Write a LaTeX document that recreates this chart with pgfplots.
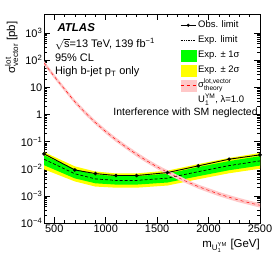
\documentclass[border=0pt]{standalone}
\usepackage{fontspec}
\setmainfont{Liberation Sans}
\usepackage{amsmath}
\usepackage{pgfplots}
\usepackage{pgfplotstable}
\pgfplotsset{compat=1.18}
\usepgfplotslibrary{fillbetween}
\definecolor{bandgreen}{RGB}{0,255,0}
\definecolor{bandyellow}{RGB}{255,255,0}
\definecolor{thpink}{RGB}{255,200,200}

\pgfplotstableread{
m    obs     exp     p1      p2      m1      m2
400  0.0352  0.0224  0.0314  0.0410  0.0135  0.0095
700  0.0090  0.0065  0.0095  0.0122  0.0044  0.0034
900  0.0066  0.0042  0.0061  0.0079  0.0029  0.0022
1100 0.0056  0.0037  0.0053  0.0067  0.0026  0.0020
1300 0.0056  0.0037  0.0053  0.0067  0.0026  0.0020
1600 0.0072  0.0045  0.0066  0.0085  0.0031  0.0024
1900 0.0127  0.0078  0.0115  0.0148  0.0053  0.0041
2200 0.0224  0.0130  0.0192  0.0250  0.0088  0.0068
2500 0.0323  0.0194  0.0290  0.0380  0.0130  0.0100
}\limits

\pgfplotstableread{
m    th       up       dn
400  78       94       65
500  25       30       21
600  8.5      10.2     7.1
700  2.95     3.5      2.45
800  1.17     1.40     0.97
900  0.50     0.60     0.42
1000 0.234    0.28     0.195
1100 0.117    0.140    0.097
1200 0.062    0.074    0.052
1300 0.034    0.041    0.028
1400 0.0195   0.0234   0.0162
1500 0.0117   0.0140   0.0097
1600 0.0074   0.0089   0.0062
1700 0.0048   0.0058   0.0040
1800 0.0032   0.0038   0.0027
1900 0.0022   0.0026   0.00183
2000 0.0016   0.00192  0.00133
2100 0.00117  0.00140  0.00097
2200 0.00089  0.00107  0.00074
2300 0.00069  0.00083  0.00057
2400 0.00055  0.00066  0.00046
2500 0.00045  0.00054  0.00037
}\theory

\begin{document}
\fontsize{11}{13}\selectfont
\begin{tikzpicture}
\begin{axis}[
  at={(44bp,43bp)}, anchor=south west,
  scale only axis, width=216bp, height=209bp,
  ymode=log, xmin=400, xmax=2500, ymin=1e-4, ymax=5000,
  axis line style={line width=0.7pt},
  every tick/.style={black, line width=0.6pt},
  major tick length=6bp, minor tick length=3bp,
  xtick={500,1000,1500,2000,2500}, minor x tick num=4,
  ytick={1e-4,1e-3,1e-2,1e-1,1,10,100,1000},
  yticklabels={10\textsuperscript{−4},10\textsuperscript{−3},10\textsuperscript{−2},10\textsuperscript{−1},1,10,10\textsuperscript{2},10\textsuperscript{3}},
  /pgf/number format/assume math mode=true,
  /pgf/number format/set thousands separator={},
  tick label style={font=\fontsize{11}{13}\selectfont},
  yticklabel style={inner xsep=1.5bp},
  xticklabel style={inner ysep=2bp},
  xlabel={m$_{\text{U}_{\text{1}}^{\text{YM}}}$ [GeV]},
  xlabel style={at={(axis description cs:1,-0.075)}, anchor=north east, inner sep=0pt, font=\fontsize{11.5}{13}\selectfont},
  ylabel={σ$^{\text{lot}}_{\text{vector}}$ [pb]},
  ylabel style={at={(axis description cs:-0.15,0.965)}, anchor=east, inner sep=0pt, font=\fontsize{11.5}{13}\selectfont},
  legend cell align=left,
  legend style={at={(axis description cs:0.63,0.983)}, anchor=north west, draw=none, fill=none,
    font=\fontsize{9.5}{11}\selectfont, inner xsep=0pt, inner ysep=0pt, row sep=0bp,
    nodes={text height=8bp, text depth=3bp, inner ysep=2bp},
    /tikz/every even column/.append style={column sep=0bp}},
]
\addlegendimage{legend image code/.code={\draw[black,line width=0.9pt] (0bp,0bp)--(15bp,0bp); \fill[black] (7.5bp,0bp) circle (1.4bp);}}
\addlegendentry{Obs. limit}
\addlegendimage{legend image code/.code={\draw[black,line width=0.7pt,densely dotted] (0bp,0bp)--(15bp,0bp);}}
\addlegendentry{Exp. limit}
\addlegendimage{legend image code/.code={\fill[bandgreen] (0bp,-5.5bp) rectangle (15bp,5.5bp);}}
\addlegendentry{Exp. ± 1σ}
\addlegendimage{legend image code/.code={\fill[bandyellow] (0bp,-5.5bp) rectangle (15bp,5.5bp);}}
\addlegendentry{Exp. ± 2σ}
\addlegendimage{legend image code/.code={\fill[thpink] (0bp,-5.5bp) rectangle (15bp,5.5bp); \draw[red,dashed,line width=0.5pt] (0bp,0bp)--(15bp,0bp);}}
\addlegendentry{σ$^{\text{lot,vector}}_{\text{theory}}$}
\addlegendimage{empty legend}
\addlegendentry{U$_{\text{1}}^{\text{YM}}$, λ=1.0}

\addplot[name path=p2, draw=none, forget plot] table[x=m,y=p2]{\limits};
\addplot[name path=m2, draw=none, forget plot] table[x=m,y=m2]{\limits};
\addplot[name path=p1, draw=none, forget plot] table[x=m,y=p1]{\limits};
\addplot[name path=m1, draw=none, forget plot] table[x=m,y=m1]{\limits};
\addplot[bandyellow, forget plot] fill between[of=p2 and m2];
\addplot[bandgreen, forget plot] fill between[of=p1 and m1];
\addplot[black, line width=0.7pt, densely dashed, forget plot] table[x=m,y=exp]{\limits};

\addplot[name path=thu, draw=none, forget plot] table[x=m,y=up]{\theory};
\addplot[name path=thd, draw=none, forget plot] table[x=m,y=dn]{\theory};
\addplot[thpink, forget plot] fill between[of=thu and thd];
\addplot[red, line width=0.45pt, dashed, smooth, forget plot] table[x=m,y=th]{\theory};

\addplot[black, line width=0.9pt, mark=*, mark size=1.3bp, forget plot] table[x=m,y=obs]{\limits};

\node[anchor=west, font=\fontsize{11.5}{13}\bfseries\itshape\selectfont] at (axis description cs:0.045,0.933) {ATLAS};
\node[anchor=west, inner sep=0pt] at (axis description cs:0.05,0.856) {$\sqrt{\text{s}}$=13 TeV, 139 fb\textsuperscript{−1}};
\node[anchor=west, inner sep=0pt] at (axis description cs:0.05,0.789) {95\% CL};
\node[anchor=west, inner sep=0pt] at (axis description cs:0.05,0.722) {High b-jet p$_{\text{T}}$ only};
\node[anchor=east, inner sep=0pt, font=\fontsize{10.5}{12}\selectfont] at (axis description cs:0.99,0.526) {Interference with SM neglected};
\end{axis}
\pgfresetboundingbox
\useasboundingbox (0,0) rectangle (274bp,266bp);
\end{tikzpicture}
\end{document}
